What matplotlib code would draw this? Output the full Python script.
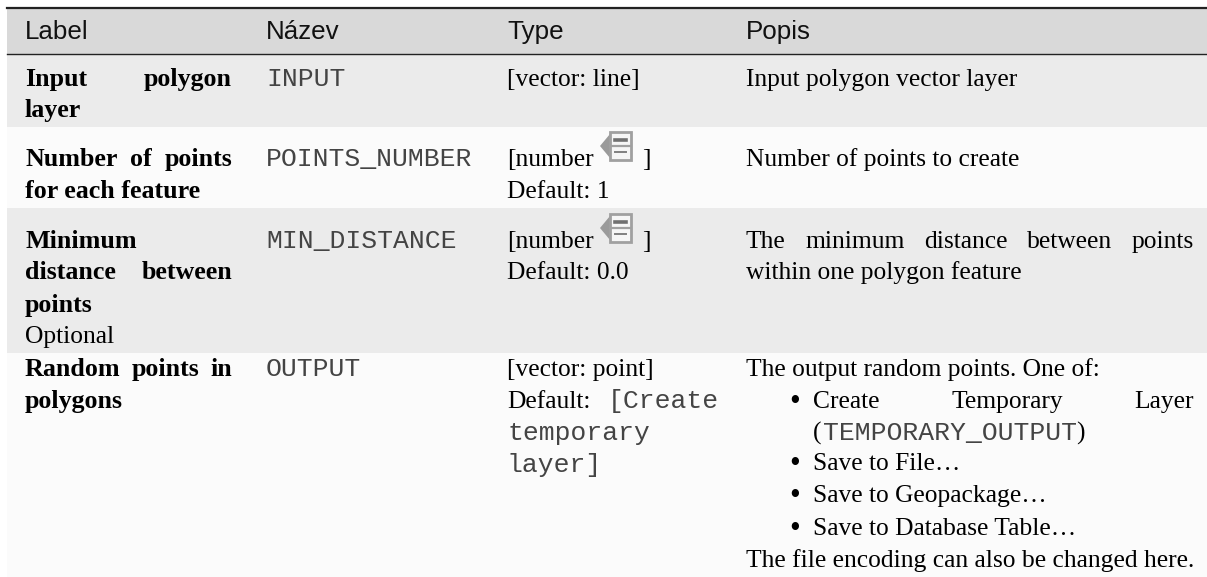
import matplotlib
matplotlib.use("Agg")
import matplotlib.pyplot as plt
from matplotlib.patches import Polygon, Rectangle

headers = ["Label", "Název", "Type", "Popis"]
label_lines = ["Input polygon", "layer", "Number of points", "for each feature", "Minimum",
               "distance between", "points", "Random points in", "polygons"]
names = ["INPUT", "POINTS_NUMBER", "MIN_DISTANCE", "OUTPUT"]
optional_text = "Optional"
type_lines = ["[vector: line]", "[number", "Default: 1", "[number", "Default: 0.0", "[vector: point]", "Default:"]
type_mono = ["[Create", "temporary", "layer]"]
desc_lines = ["Input polygon vector layer", "Number of points to create", "The minimum distance between points",
              "within one polygon feature", "The output random points. One of:"]
bullets = ["Create Temporary Layer", "Save to File…", "Save to Geopackage…", "Save to Database Table…"]
mono_output = "TEMPORARY_OUTPUT"
last_line = "The file encoding can also be changed here."

W, H = 1207, 577
COL = [25, 266, 507, 746]
SERIF = dict(family="Liberation Serif", fontsize=18.4, color="#000000")
BOLD = dict(family="Liberation Serif", fontsize=18.7, color="#000000", weight="bold")
MONO = dict(family="Liberation Mono", fontsize=19, color="#444444")
SANS = dict(family="Liberation Sans", fontsize=18.7, color="#111111")
DOT = dict(family="Liberation Serif", fontsize=22, color="#000000")

fig = plt.figure(figsize=(W / 100, H / 100), dpi=100)
ax = fig.add_axes([0, 0, 1, 1])
ax.set_xlim(0, W)
ax.set_ylim(H, 0)
ax.axis("off")


def put(x, y, text, style, right=None):
    # right given means the words are spread out to it, like justified text
    if right is None:
        ax.text(x, y, text, va="baseline", ha="left", **style)
        return
    words = text.split(" ")
    r = fig.canvas.get_renderer()
    items = [ax.text(x, y, w, va="baseline", ha="left", **style) for w in words]
    widths = [t.get_window_extent(r).width for t in items]
    gap = (right - x - sum(widths)) / (len(words) - 1)
    pos = x
    for t, w in zip(items, widths):
        t.set_x(pos)
        pos += w + gap


def icon(x, y):
    ax.add_patch(Polygon([(x, y + 14), (x + 10, y + 2), (x + 10, y + 26)], color="#9a9a9a", lw=0))
    ax.add_patch(Rectangle((x + 10, y), 21, 28, fc="#f6f6f6", ec="#a0a0a0", lw=2))
    ax.plot([x + 10, x + 31], [y + 14, y + 14], color="#a0a0a0", lw=1.6)
    ax.plot([x + 15, x + 26], [y + 8, y + 8], color="#707070", lw=2.6)
    ax.plot([x + 15, x + 26], [y + 20, y + 20], color="#808080", lw=1.4)


# bands
for y0, y1, c in [(9, 54, "#d9d9d9"), (54, 127, "#ebebeb"), (127, 208, "#fbfbfb"),
                  (208, 353, "#ebebeb"), (353, 577, "#fbfbfb")]:
    ax.add_patch(Rectangle((7, y0), W - 7, y1 - y0, fc=c, ec="none"))
ax.plot([7, W], [8, 8], color="#222222", lw=1.6)
ax.plot([7, W], [54, 54], color="#222222", lw=1.0)

for x, h in zip(COL, headers):
    put(x, 39, h, SANS)

# label column
label_y = [86, 117, 166, 198, 248, 279, 312, 376, 408]
label_just = [232, None, 232, None, None, 232, None, 232, None]
for line, y, right in zip(label_lines, label_y, label_just):
    put(COL[0], y, line, BOLD, right)
put(COL[0], 343, optional_text, SERIF)

# name column
for name, y in zip(names, [86, 166, 248, 376]):
    put(COL[1], y, name, MONO)

# type column
for line, y in zip(type_lines, [86, 166, 198, 248, 279, 376, 408]):
    put(COL[2], y, line, SERIF)
for line, x, y in zip(type_mono, [608, COL[2], COL[2]], [408, 440, 472]):
    put(x, y, line, MONO)
icon(600, 132)
icon(600, 214)
put(642, 166, "]", SERIF)
put(642, 248, "]", SERIF)

# description column
desc_y = [86, 166, 248, 279, 376]
desc_just = [None, None, 1194, None, None]
for line, y, right in zip(desc_lines, desc_y, desc_just):
    put(COL[3], y, line, SERIF, right)
for line, y, right in zip(bullets, [408, 470, 502, 535], [1194, None, None, None]):
    put(789, y + 2, "•", DOT)
    put(813, y, line, SERIF, right)
put(813, 440, "(", SERIF)
put(823, 440, mono_output, MONO)
put(1076, 440, ")", SERIF)
put(COL[3], 567, last_line, SERIF)

fig.savefig("out.png", dpi=100)
